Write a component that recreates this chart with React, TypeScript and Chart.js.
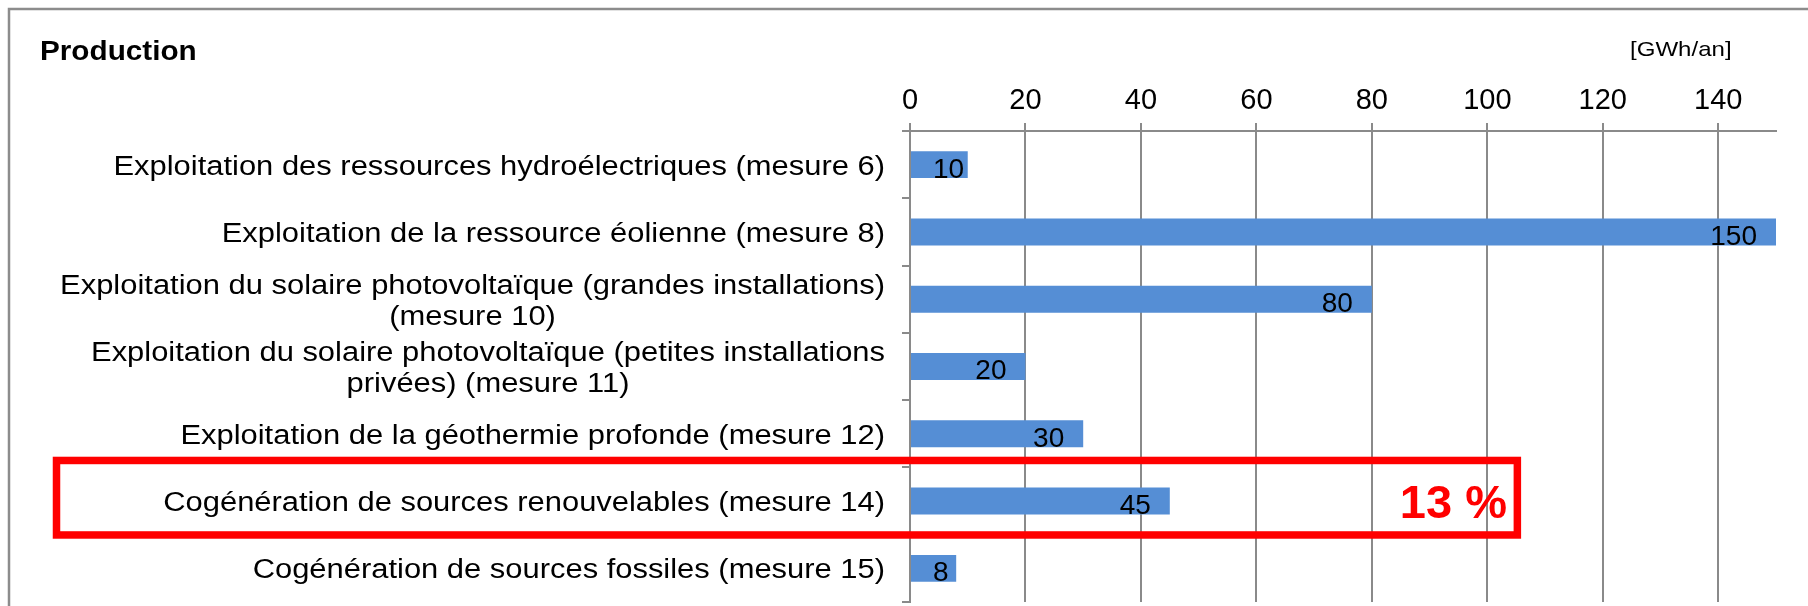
import React, { useEffect, useRef } from "react";
import { Chart, registerables } from "chart.js";

Chart.register(...registerables);

// ---------- data ----------
const categories: (string | string[])[] = [
  "Exploitation des ressources hydroélectriques (mesure 6)",
  "Exploitation de la ressource éolienne (mesure 8)",
  ["Exploitation du solaire photovoltaïque (grandes installations)", "(mesure 10)"],
  ["Exploitation du solaire photovoltaïque (petites installations", "privées) (mesure 11)"],
  "Exploitation de la géothermie profonde (mesure 12)",
  "Cogénération de sources renouvelables (mesure 14)",
  "Cogénération de sources fossiles (mesure 15)",
];
const productionValues = [10, 150, 80, 20, 30, 45, 8];
const xTickValues = [0, 20, 40, 60, 80, 100, 120, 140];
const xMax = 150;
const titleText = "Production";
const unitText = "[GWh/an]";
const highlightIndex = 5;
const highlightText = "13 %";
const highlightBoxRight = 105.2;
const highlightTextRight = 103.4;

// ---------- style ----------
const FONT = "'Liberation Sans', Arial, Helvetica, sans-serif";
const GRID = "#8a8a8a";
const BAR = "#558ED5";
const SX = 1.145;

function fillStretched(
  ctx: CanvasRenderingContext2D,
  text: string,
  x: number,
  y: number,
  align: CanvasTextAlign,
  sx: number
) {
  ctx.save();
  ctx.translate(x, y);
  ctx.scale(sx, 1);
  ctx.textAlign = align;
  ctx.fillText(text, 0, 0);
  ctx.restore();
}

const decorPlugin = {
  id: "decor",
  beforeDraw(chart: any) {
    const ctx = chart.ctx as CanvasRenderingContext2D;
    ctx.save();
    ctx.fillStyle = "#ffffff";
    ctx.fillRect(0, 0, chart.width, chart.height);
    ctx.restore();
  },
  afterDatasetsDraw(chart: any) {
    const ctx = chart.ctx as CanvasRenderingContext2D;
    const meta = chart.getDatasetMeta(0);
    ctx.save();
    ctx.font = `28px ${FONT}`;
    ctx.fillStyle = "#000";
    ctx.textBaseline = "alphabetic";
    ctx.textAlign = "center";
    meta.data.forEach((el: any, i: number) => {
      const p = el.getProps(["x", "y", "base", "height"], true);
      const txt = String(productionValues[i]);
      const w = ctx.measureText(txt).width;
      let cx = p.x - 19 - w / 2;
      const minCx = p.base + 22 + w / 2;
      if (cx < minCx) cx = minCx;
      ctx.fillText(txt, cx, p.y + p.height / 2 - 0.5);
    });
    ctx.restore();
  },
  afterDraw(chart: any) {
    const ctx = chart.ctx as CanvasRenderingContext2D;
    const xs = chart.scales.x;
    const ys = chart.scales.y;
    const area = chart.chartArea;
    ctx.save();

    // frame
    ctx.strokeStyle = "#8c8c8c";
    ctx.lineWidth = 2.5;
    ctx.beginPath();
    ctx.moveTo(9, chart.height);
    ctx.lineTo(9, 9);
    ctx.lineTo(chart.width, 9);
    ctx.stroke();

    // title + unit
    ctx.fillStyle = "#000";
    ctx.textBaseline = "alphabetic";
    ctx.font = `bold 27px ${FONT}`;
    fillStretched(ctx, titleText, 40, 60, "left", 1.1);
    ctx.font = `21px ${FONT}`;
    fillStretched(ctx, unitText, 1630, 56, "left", SX);

    // category labels
    ctx.font = `27px ${FONT}`;
    const rightEdge = area.left - 25;
    const lineH = 31;
    categories.forEach((lab, i) => {
      const lines = Array.isArray(lab) ? lab : [lab];
      const yc = ys.getPixelForValue(i);
      const widths = lines.map((l) => ctx.measureText(l).width * SX);
      const W = Math.max(...widths);
      const cx = rightEdge - W / 2;
      lines.forEach((l, j) => {
        const by = yc + 10 + (j - (lines.length - 1) / 2) * lineH;
        fillStretched(ctx, l, cx, by, "center", SX);
      });
    });

    // highlight box
    const yc = ys.getPixelForValue(highlightIndex);
    const left = 56.5;
    const right = xs.getPixelForValue(highlightBoxRight);
    ctx.strokeStyle = "#FF0000";
    ctx.lineWidth = 7.5;
    ctx.strokeRect(left, yc - 40.6, right - left, 74.5);

    ctx.fillStyle = "#FF0000";
    ctx.font = `bold 47px ${FONT}`;
    ctx.textAlign = "right";
    ctx.fillText(highlightText, xs.getPixelForValue(highlightTextRight), yc + 17);

    ctx.restore();
  },
};

export default function App() {
  const ref = useRef<HTMLCanvasElement>(null);
  useEffect(() => {
    const chart = new Chart(ref.current as HTMLCanvasElement, {
      type: "bar",
      data: {
        labels: categories as any,
        datasets: [
          {
            data: productionValues,
            backgroundColor: BAR,
            borderWidth: 0,
            barPercentage: 0.4,
            categoryPercentage: 1,
          },
        ],
      },
      options: {
        indexAxis: "y",
        responsive: false,
        animation: false,
        devicePixelRatio: 1,
        layout: { padding: { left: 0, right: 32, top: 0, bottom: 4 } },
        plugins: {
          legend: { display: false },
          tooltip: { enabled: false },
          title: { display: false },
        },
        scales: {
          x: {
            type: "linear",
            position: "top",
            min: 0,
            max: xMax,
            afterBuildTicks: (s: any) => {
              s.ticks = xTickValues.map((v) => ({ value: v }));
            },
            afterFit: (s: any) => {
              s.height = 131;
            },
            ticks: {
              font: { family: FONT, size: 29 },
              color: "#000",
              padding: 5,
              maxRotation: 0,
              autoSkip: false,
            },
            grid: { color: GRID, lineWidth: 2, drawTicks: true, tickLength: 8 },
            border: { display: true, color: GRID, width: 2 },
          },
          y: {
            type: "category",
            position: "left",
            afterFit: (s: any) => {
              s.width = 910;
            },
            ticks: { display: false },
            grid: {
              drawOnChartArea: false,
              drawTicks: true,
              tickLength: 8,
              color: GRID,
              lineWidth: 2,
              offset: true,
            },
            border: { display: true, color: GRID, width: 2 },
          },
        },
      } as any,
      plugins: [decorPlugin],
    });
    return () => chart.destroy();
  }, []);
  return (
    <div
      style={{
        position: "fixed",
        left: 0,
        top: 0,
        width: 1808,
        height: 606,
        background: "#fff",
      }}
    >
      <canvas
        ref={ref}
        width={1808}
        height={606}
        style={{ display: "block", width: 1808, height: 606 }}
      />
    </div>
  );
}
